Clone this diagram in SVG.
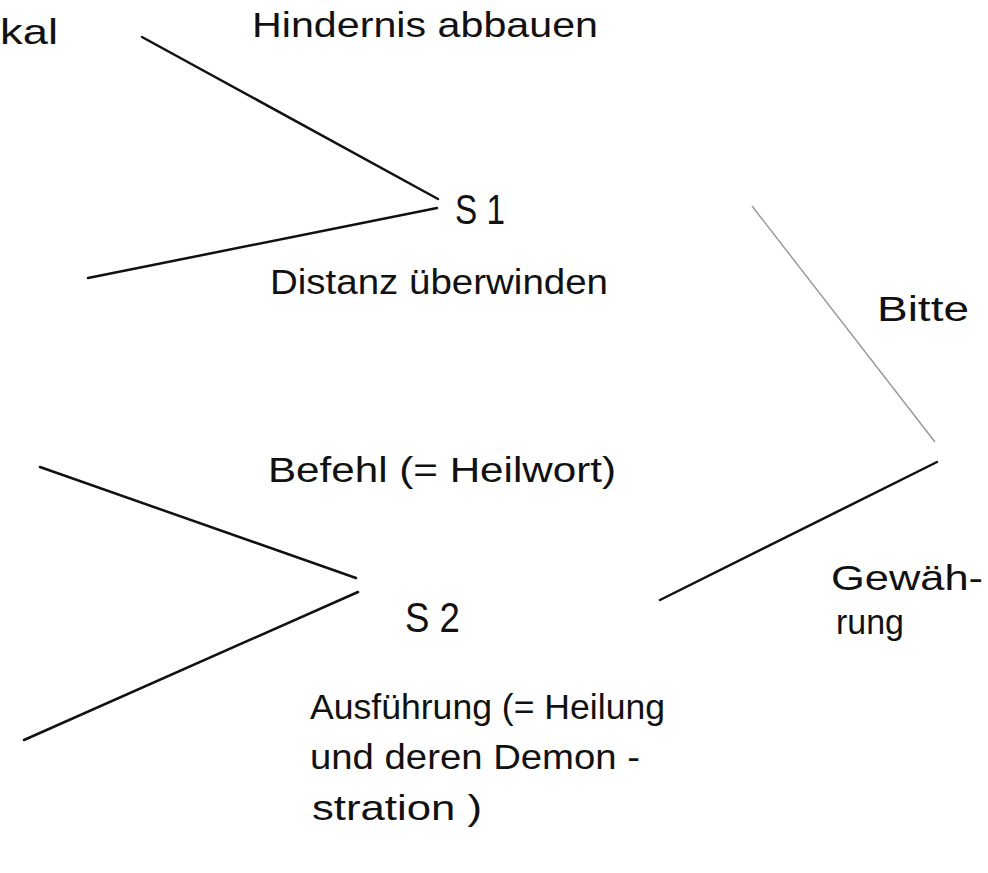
<svg xmlns="http://www.w3.org/2000/svg" width="988" height="873" viewBox="0 0 988 873">
<style>
.t{font-family:"Liberation Sans","DejaVu Sans",sans-serif;fill:#111;font-size:35px;}
.s{font-size:42px;}
.c{stroke:#111;stroke-width:2.5;fill:none;stroke-linecap:round;}
.f{stroke:#9a9a9a;stroke-width:1.5;fill:none;}
</style>
<rect width="988" height="873" fill="#fff"/>
<g id="connectors">
<line class="c" x1="142" y1="37" x2="438" y2="199"/>
<line class="c" x1="437" y1="208" x2="88" y2="278"/>
<line class="c" x1="40" y1="467" x2="356" y2="578"/>
<line class="c" x1="358" y1="592" x2="24" y2="740"/>
<line class="f" x1="752" y1="206" x2="935" y2="442"/>
<line class="c" x1="937" y1="462" x2="660" y2="600"/>
</g>
<g id="top-left"><text class="t" x="0" y="44" textLength="58" lengthAdjust="spacingAndGlyphs">kal</text></g>
<g id="hindernis"><text class="t" x="252" y="37" textLength="346" lengthAdjust="spacingAndGlyphs">Hindernis abbauen</text></g>
<g id="s1"><text class="t s" x="455" y="224" textLength="50" lengthAdjust="spacingAndGlyphs">S 1</text></g>
<g id="distanz"><text class="t" x="270" y="294" textLength="338" lengthAdjust="spacingAndGlyphs">Distanz überwinden</text></g>
<g id="bitte"><text class="t" x="877" y="321" textLength="92" lengthAdjust="spacingAndGlyphs">Bitte</text></g>
<g id="befehl"><text class="t" x="268" y="482" textLength="348" lengthAdjust="spacingAndGlyphs">Befehl (= Heilwort)</text></g>
<g id="s2"><text class="t s" x="405" y="632" textLength="55" lengthAdjust="spacingAndGlyphs">S 2</text></g>
<g id="gewaehrung">
<text class="t" x="831" y="590" textLength="152" lengthAdjust="spacingAndGlyphs">Gewäh-</text>
<text class="t" x="836" y="634" textLength="68" lengthAdjust="spacingAndGlyphs">rung</text>
</g>
<g id="ausfuehrung">
<text class="t" x="310" y="719" textLength="355" lengthAdjust="spacingAndGlyphs">Ausführung (= Heilung</text>
<text class="t" x="310" y="769" textLength="330" lengthAdjust="spacingAndGlyphs">und deren Demon -</text>
<text class="t" x="312" y="820" textLength="170" lengthAdjust="spacingAndGlyphs">stration )</text>
</g>
</svg>
